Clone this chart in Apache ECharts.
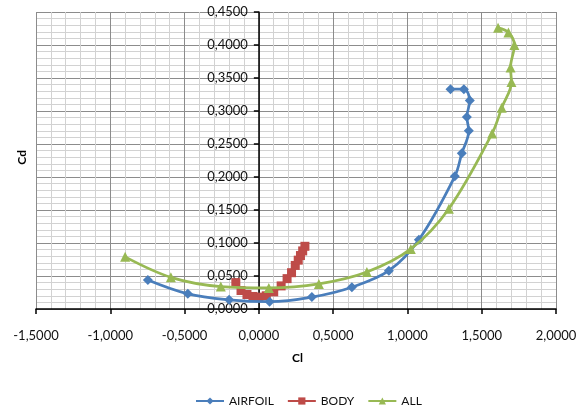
<!DOCTYPE html>
<html>
<head>
<meta charset="utf-8">
<script src="https://cdn.jsdelivr.net/npm/echarts@6/dist/echarts.min.js"></script>
<style>
  html, body { margin: 0; padding: 0; background: #fff; }
  #chart { width: 578px; height: 407px; }
</style>
</head>
<body>
<div id="chart"></div>
<script>
// Drag polar: lift coefficient (Cl) against drag coefficient (Cd)
const seriesNames = ['AIRFOIL', 'BODY', 'ALL'];

const airfoilCl = [-0.747, -0.478, -0.200, 0.072, 0.357, 0.626, 0.875, 1.077, 1.319, 1.366, 1.413, 1.400, 1.420, 1.380, 1.290];
const airfoilCd = [0.044, 0.023, 0.014, 0.011, 0.018, 0.033, 0.058, 0.105, 0.201, 0.236, 0.270, 0.291, 0.316, 0.333, 0.333];

const bodyCl = [-0.155, -0.120, -0.080, -0.040, 0.000, 0.050, 0.100, 0.150, 0.190, 0.220, 0.245, 0.265, 0.280, 0.295, 0.310];
const bodyCd = [0.040, 0.028, 0.022, 0.019, 0.018, 0.020, 0.026, 0.035, 0.046, 0.055, 0.066, 0.074, 0.081, 0.088, 0.095];

const allCl = [-0.900, -0.592, -0.256, 0.067, 0.404, 0.727, 1.023, 1.279, 1.570, 1.635, 1.700, 1.694, 1.720, 1.680, 1.610];
const allCd = [0.079, 0.048, 0.034, 0.032, 0.038, 0.056, 0.091, 0.152, 0.266, 0.305, 0.344, 0.366, 0.400, 0.419, 0.426];

const xTitle = 'Cl';
const yTitle = 'Cd';

const X_MIN = -1.5, X_MAX = 2.0;
const GRID = { left: 36, right: 22, top: 12, bottom: 98 };
const CHART_W = 578;

const pairs = (xs, ys) => xs.map((x, i) => [x, ys[i]]);
const fmt = v => v.toFixed(4).replace('.', ',');

const FONT = 'Lato, "Liberation Sans", sans-serif';
const colors = ['#4A7EBB', '#BE4B48', '#98B954'];

// the Cd axis crosses the Cl axis at Cl = 0
const plotW = CHART_W - GRID.left - GRID.right;
const yAxisShift = (0 - X_MIN) / (X_MAX - X_MIN) * plotW;

const chart = echarts.init(document.getElementById('chart'), null, { renderer: 'canvas' });

// major grid every labelled step, light minor grid in five sub-steps
const gridLines = () => ({
  splitLine: { show: true, lineStyle: { color: '#8c8c8c', width: 1 } },
  minorTick: { show: true, length: 0, splitNumber: 5, lineStyle: { color: 'rgba(0,0,0,0)' } },
  minorSplitLine: { show: true, lineStyle: { color: '#d2d2d2', width: 1 } }
});

chart.setOption({
  animation: false,
  color: colors,
  textStyle: { fontFamily: FONT },
  grid: Object.assign({ containLabel: false, outerBoundsMode: 'none' }, GRID),
  xAxis: Object.assign({
    type: 'value',
    min: X_MIN, max: X_MAX, interval: 0.5,
    axisLine: { show: true, onZero: true, lineStyle: { color: '#000', width: 1.5 } },
    axisTick: { show: true, length: 5, lineStyle: { color: '#000', width: 1.5 } },
    axisLabel: { formatter: fmt, margin: 20, fontSize: 13, color: '#111', fontFamily: FONT }
  }, gridLines()),
  yAxis: Object.assign({
    type: 'value',
    position: 'left',
    offset: -yAxisShift,
    min: 0, max: 0.45, interval: 0.05,
    axisLine: { show: true, onZero: false, lineStyle: { color: '#000', width: 1.5 } },
    axisTick: { show: true, length: 5, lineStyle: { color: '#000', width: 1.5 } },
    axisLabel: { formatter: fmt, margin: 11, fontSize: 13, color: '#111', fontFamily: FONT }
  }, gridLines()),
  legend: {
    top: 390,
    left: 190,
    itemWidth: 28,
    itemHeight: 9,
    itemGap: 13,
    textStyle: { fontSize: 12, color: '#111', fontFamily: FONT },
    data: seriesNames
  },
  graphic: [
    {
      type: 'text', left: 16, top: 150, rotation: Math.PI / 2,
      style: { text: yTitle, font: 'bold 12px ' + FONT, fill: '#000' }
    },
    {
      type: 'text', left: 292, top: 352,
      style: { text: xTitle, font: 'bold 12px ' + FONT, fill: '#000' }
    }
  ],
  series: [
    {
      name: seriesNames[0], type: 'line', smooth: 0.35,
      data: pairs(airfoilCl, airfoilCd),
      symbol: 'diamond', symbolSize: 10,
      lineStyle: { width: 2.75 }, z: 3
    },
    {
      name: seriesNames[1], type: 'line', smooth: 0.35,
      data: pairs(bodyCl, bodyCd),
      symbol: 'rect', symbolSize: 9,
      lineStyle: { width: 2.75 }, z: 2
    },
    {
      name: seriesNames[2], type: 'line', smooth: 0.35,
      data: pairs(allCl, allCd),
      symbol: 'triangle', symbolSize: 10,
      lineStyle: { width: 2.75 }, z: 4
    }
  ]
});
</script>
</body>
</html>
